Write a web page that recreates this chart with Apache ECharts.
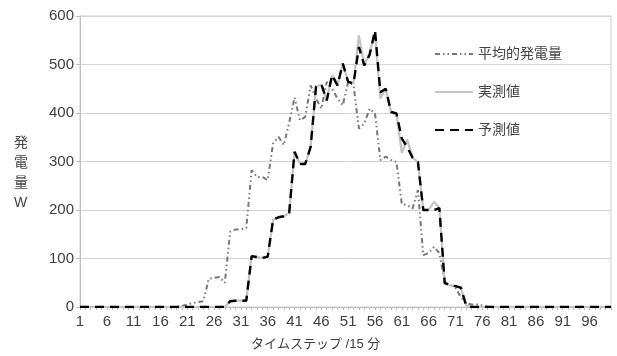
<!DOCTYPE html>
<html><head><meta charset="utf-8">
<script src="https://cdn.jsdelivr.net/npm/echarts@6/dist/echarts.min.js"></script>
<style>html,body{margin:0;padding:0;background:#fff}#c{width:617px;height:356px}</style>
</head><body><div id="c"></div>
<script>
// categories 1..100 (time steps of 15 min)
var categories = [];
for (var k = 1; k <= 100; k++) categories.push(String(k));

// 平均的発電量 (average), indices 1..100
var avgVals = [
0,0,0,0,0,0,0,0,0,0,
0,0,0,0,0,0,0,0,0,2,
5,8,10,12,58,60,62,50,155,160,
160,163,282,268,268,262,337,351,334,380,
432,385,392,457,430,409,464,450,430,416,
464,457,368,378,409,399,303,310,303,299,
212,210,203,241,107,111,124,111,52,45,
40,20,8,5,5,3,0,0,0,0,
0,0,0,0,0,0,0,0,0,0,
0,0,0,0,0,0,0,0,0,0
];
// 実測値 (measured)
var actualVals = [
0,0,0,0,0,0,0,0,0,0,
0,0,0,0,0,0,0,0,0,0,
0,0,0,0,0,0,0,0,12,13,
13,13,105,103,101,104,180,185,187,194,
320,295,295,330,454,459,426,478,457,502,
464,461,560,498,525,565,430,450,402,399,
318,345,308,299,200,200,217,204,49,45,
43,40,3,0,0,0,0,0,0,0,
0,0,0,0,0,0,0,0,0,0,
0,0,0,0,0,0,0,0,0,0
];
// 予測値 (predicted)
var predVals = [
0,0,0,0,0,0,0,0,0,0,
0,0,0,0,0,0,0,0,0,0,
0,0,0,0,0,0,0,0,12,13,
13,13,105,103,101,104,180,185,187,194,
320,295,295,330,454,459,426,478,457,502,
464,461,536,498,520,570,443,450,402,399,
347,330,308,299,200,200,200,204,49,45,
43,40,3,0,0,0,0,0,0,0,
0,0,0,0,0,0,0,0,0,0,
0,0,0,0,0,0,0,0,0,0
];
var yTicks = [0,100,200,300,400,500,600];
var seriesNames = ['平均的発電量','実測値','予測値'];

var FF = 'Liberation Sans, Noto Sans CJK JP, sans-serif';
var chart = echarts.init(document.getElementById('c'));
chart.setOption({
  animation: false,
  backgroundColor: '#fff',
  grid: {left: 80, right: 6, top: 16, bottom: 49, show: true, borderColor: '#cfcfcf', borderWidth: 1},
  legend: {
    orient: 'vertical', left: 429, top: 42, itemGap: 24, itemWidth: 38, itemHeight: 14,
    itemStyle: {opacity: 0},
    textStyle: {fontFamily: FF, fontSize: 14, color: '#444'},
    data: seriesNames
  },
  xAxis: {
    type: 'category', data: categories, boundaryGap: false,
    axisLine: {lineStyle: {color: '#bfbfbf'}},
    axisTick: {show: true, interval: 0, length: 3, lineStyle: {color: '#bfbfbf'}},
    axisLabel: {interval: 4, fontFamily: FF, fontSize: 15, color: '#404040', margin: 7},
    splitLine: {show: false}
  },
  yAxis: {
    type: 'value', min: yTicks[0], max: yTicks[yTicks.length-1], interval: 100,
    axisLine: {show: true, lineStyle: {color: '#bfbfbf'}},
    axisTick: {show: true, length: 4, lineStyle: {color: '#bfbfbf'}},
    axisLabel: {fontFamily: FF, fontSize: 15, color: '#404040', margin: 6},
    splitLine: {lineStyle: {color: '#d4d4d4', width: 1}}
  },
  graphic: [
    {type: 'text', left: 14, top: 133, style: {text: '発\n電\n量\nW', font: '14px ' + FF, fill: '#444', lineHeight: 20, align: 'center'}},
    {type: 'text', left: 251, top: 338, style: {text: 'タイムステップ /15 分', font: '13px ' + FF, fill: '#404040'}}
  ],
  series: [
    {name: seriesNames[0], type: 'line', data: avgVals, symbol: 'none',
     lineStyle: {color: '#777', width: 2, type: [5,3,1.5,3,1.5,3]}, itemStyle: {color: '#777'}},
    {name: seriesNames[1], type: 'line', data: actualVals, symbol: 'none',
     lineStyle: {color: '#c4c4c4', width: 2.2}, itemStyle: {color: '#c4c4c4'}},
    {name: seriesNames[2], type: 'line', data: predVals, symbol: 'none',
     lineStyle: {color: '#000', width: 2.4, type: [9,6]}, itemStyle: {color: '#000'}}
  ]
});
</script></body></html>
